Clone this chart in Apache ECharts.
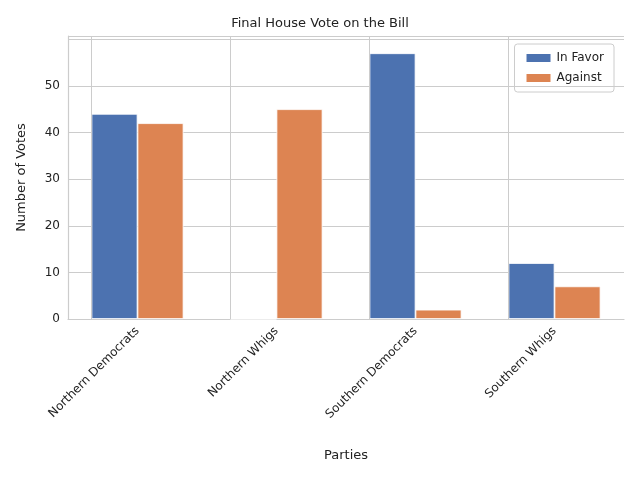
<!DOCTYPE html><html><head><meta charset="utf-8">
<script src="https://cdn.jsdelivr.net/npm/echarts@6/dist/echarts.min.js"></script>
<style>html,body{margin:0;background:#fff}#c{width:640px;height:480px}</style></head><body><div id="c"></div>
<script>
const categories=["Northern Democrats","Northern Whigs","Southern Democrats","Southern Whigs"];
const inFavor=[44,0,57,12];
const against=[42,45,2,7];
const yTicks=[0,10,20,30,40,50];
const chart=echarts.init(document.getElementById('c'));
const f='DejaVu Sans';
chart.setOption({
 animation:false,
 title:{text:'Final House Vote on the Bill',left:'center',top:12,textStyle:{fontFamily:f,fontSize:13,fontWeight:'normal',color:'#222'}},
 legend:{right:26,top:44,orient:'vertical',itemWidth:26,itemHeight:10,itemGap:8,icon:'rect',padding:[8,10],borderColor:'#ccc',borderWidth:1,borderRadius:3,textStyle:{fontFamily:f,fontSize:12,color:'#222'}},
 grid:{left:68,right:16,top:36,bottom:161},
 xAxis:{type:'category',data:categories,name:'Parties',nameLocation:'middle',nameGap:130,nameTextStyle:{fontFamily:f,fontSize:13,color:'#222'},
  axisLine:{show:true,lineStyle:{color:'#ccc',width:1.2}},axisTick:{show:false},
  axisLabel:{rotate:45,fontFamily:f,fontSize:12,color:'#222',margin:10,interval:0},splitLine:{show:false}},
 yAxis:{type:'value',min:0,max:60.7,interval:10,name:'Number of Votes',nameLocation:'middle',nameGap:40,nameTextStyle:{fontFamily:f,fontSize:13,color:'#222'},
  axisLine:{show:true,lineStyle:{color:'#ccc',width:1.2}},axisTick:{show:false},
  axisLabel:{fontFamily:f,fontSize:12,color:'#222',formatter:v=>yTicks.includes(v)?String(v):''},splitLine:{lineStyle:{color:'#ccc',width:1}}},
 series:[
  {type:'bar',name:'__grid',data:[],z:1,legendHoverLink:false,
   markLine:{silent:true,symbol:'none',label:{show:false},lineStyle:{color:'#ccc',type:'solid',width:1},data:categories.map(c=>({xAxis:c}))}},
  {type:'bar',name:'In Favor',data:inFavor,barWidth:46,barGap:'0%',z:3,itemStyle:{color:'#4c72b0',borderColor:'#fff',borderWidth:0.8}},
  {type:'bar',name:'Against',data:against,barWidth:46,barGap:'0%',z:3,itemStyle:{color:'#dd8452',borderColor:'#fff',borderWidth:0.8}}
 ]
});
chart.setOption({legend:{data:['In Favor','Against']}});
</script></body></html>
